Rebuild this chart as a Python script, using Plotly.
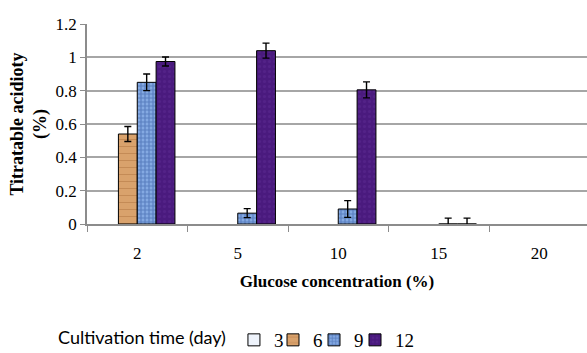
import plotly.graph_objects as go

# Glucose concentrations (%) on the x axis
concentrations = ["2", "5", "10", "15", "20"]

# Titratable acidity (%) by cultivation time; None = no measurement
acid_day3 = [None, None, None, None, None]
acid_day6 = [0.54, None, None, None, None]
acid_day9 = [0.85, 0.065, 0.09, 0.0, None]
acid_day12 = [0.975, 1.04, 0.805, 0.0, None]

# Standard deviations
err_day3 = [None, None, None, None, None]
err_day6 = [0.045, None, None, None, None]
err_day9 = [0.05, 0.027, 0.05, 0.035, None]
err_day12 = [0.027, 0.045, 0.048, 0.035, None]

series_names = ["3", "6", "9", "12"]

x_pos = list(range(len(concentrations)))

SERIF = "Times New Roman, Liberation Serif, serif"

styles = [
    dict(color="#EEF3FB", pattern=None),
    dict(color="#D9A26C", pattern=dict(shape="-", fgcolor="#B0743F", size=7, solidity=0.15)),
    dict(color="#84A9E2", pattern=dict(shape="+", fgcolor="#2F559E", size=4, solidity=0.5)),
    dict(color="#4A1A7E", pattern=dict(shape=".", fgcolor="#5B2A92", size=5, solidity=0.3)),
]

values = [acid_day3, acid_day6, acid_day9, acid_day12]
errors = [err_day3, err_day6, err_day9, err_day12]

# one compact legend box per series so the entries sit close together
legend_ids = ["legend", "legend2", "legend3", "legend4"]
legend_x = [-0.062, 0.372, 0.454, 0.536]

fig = go.Figure()
for name, vals, errs, st, lg in zip(series_names, values, errors, styles, legend_ids):
    marker = dict(color=st["color"], line=dict(color="black", width=1))
    if st["pattern"] is not None:
        marker["pattern"] = st["pattern"]
    fig.add_trace(go.Bar(
        x=x_pos, y=vals, name=name, marker=marker, legend=lg,
        error_y=dict(type="data", array=errs, color="black", thickness=1.4, width=3.5),
    ))

legend_common = dict(
    orientation="h", xanchor="left", y=-0.58, yanchor="middle",
    font=dict(family=SERIF, size=19, color="black"),
    itemwidth=30, bgcolor="rgba(0,0,0,0)",
)

layout_legends = {}
for i, (lg, lx) in enumerate(zip(legend_ids, legend_x)):
    spec = dict(legend_common, x=lx)
    if i == 0:
        spec["title"] = dict(text="Cultivation time (day)", side="left",
                             font=dict(family="Lato, Liberation Sans", size=18, color="black"))
    layout_legends[lg] = spec

fig.update_layout(
    width=587, height=353,
    margin=dict(l=87, r=0, t=24, b=129, autoexpand=False),
    paper_bgcolor="white", plot_bgcolor="white",
    barmode="group", bargap=0.25, bargroupgap=0,
    font=dict(family=SERIF, size=16, color="black"),
    showlegend=True,
    **layout_legends,
)

fig.update_xaxes(
    range=[-0.5, 4.475],
    tickvals=x_pos, ticktext=concentrations, ticks="",
    ticklabelstandoff=13,
    tickfont=dict(family=SERIF, size=17),
    showline=True, linecolor="#8c8c8c", linewidth=1.5,
    showgrid=False, zeroline=False,
    minor=dict(tickvals=[-0.5, 0.5, 1.5, 2.5, 3.5], ticks="outside",
               ticklen=6, tickcolor="#8c8c8c", tickwidth=1.2, showgrid=False),
    title=dict(text="<b>Glucose concentration (%)</b>", standoff=13,
               font=dict(family=SERIF, size=17)),
)

fig.update_yaxes(
    range=[0, 1.2], dtick=0.2,
    ticks="outside", ticklen=5, tickcolor="#8c8c8c", tickwidth=1.2,
    tickfont=dict(family=SERIF, size=17),
    showline=True, linecolor="#8c8c8c", linewidth=1.5,
    showgrid=True, gridcolor="#a6a6a6", gridwidth=1.5,
    zeroline=False,
    title=dict(text="<b>Titratable acidioty<br>(%)</b>", standoff=4,
               font=dict(family=SERIF, size=18)),
)

fig.write_html("out.html")
